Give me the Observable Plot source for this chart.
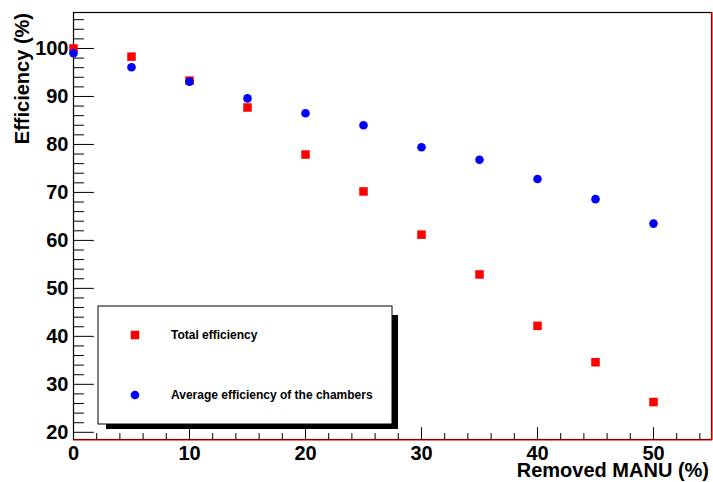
<!DOCTYPE html>
<html>
<head>
<meta charset="utf-8">
<script src="https://cdn.jsdelivr.net/npm/d3@7"></script>
<script src="https://cdn.jsdelivr.net/npm/@observablehq/plot@0.6"></script>
<style>
  html, body { margin: 0; padding: 0; background: #fff; }
  #chart { position: relative; width: 713px; height: 482px; }
  #chart > svg.overlay { position: absolute; left: 0; top: 0; pointer-events: none; }
</style>
</head>
<body>
<div id="chart"></div>
<script>
// ---- data ----
const removed   = [0, 5, 10, 15, 20, 25, 30, 35, 40, 45, 50];
const totalEff  = [100, 98.3, 93.3, 87.7, 77.9, 70.2, 61.2, 52.9, 42.2, 34.6, 26.3];
const avgEff    = [99.0, 96.1, 93.1, 89.6, 86.5, 84.0, 79.4, 76.8, 72.8, 68.6, 63.5];
const xMajor    = [0, 10, 20, 30, 40, 50];
const xMinor    = [2, 4, 6, 8, 12, 14, 16, 18, 22, 24, 26, 28, 32, 34, 36, 38, 42, 44, 46, 48, 52, 54];
const yMajor    = [20, 30, 40, 50, 60, 70, 80, 90, 100];
const yMinor    = [22, 24, 26, 28, 32, 34, 36, 38, 42, 44, 46, 48, 52, 54, 56, 58, 62, 64, 66, 68,
                   72, 74, 76, 78, 82, 84, 86, 88, 92, 94, 96, 98, 102, 104, 106];
const seriesNames = ["Total efficiency", "Average efficiency of the chambers"];
const xTitle = "Removed MANU (%)";
const yTitle = "Efficiency (%)";

const totalData = removed.map((x, i) => ({x, y: totalEff[i]}));
const avgData   = removed.map((x, i) => ({x, y: avgEff[i]}));

const font = "'Liberation Sans', Arial, Helvetica, sans-serif";

// inward tick shapes for Plot.vector
const tickRight = {draw(ctx, l) { ctx.moveTo(0, 0); ctx.lineTo(l, 0); }};
const tickUp    = {draw(ctx, l) { ctx.moveTo(0, 0); ctx.lineTo(0, -l); }};

const plot = Plot.plot({
  width: 713, height: 482,
  marginLeft: 73, marginRight: 2, marginTop: 12, marginBottom: 43,
  style: {fontFamily: font, background: "#fff", color: "#000"},
  x: {domain: [0, 55]},
  y: {domain: [18.5, 107.5]},
  marks: [
    Plot.frame({stroke: "#000", strokeWidth: 1.2}),
    Plot.vector(yMajor, {y: d => d, frameAnchor: "left", anchor: "start", length: 20, shape: tickRight, stroke: "#000", strokeWidth: 1}),
    Plot.vector(yMinor, {y: d => d, frameAnchor: "left", anchor: "start", length: 10, shape: tickRight, stroke: "#000", strokeWidth: 1}),
    Plot.vector(xMajor, {x: d => d, frameAnchor: "bottom", anchor: "start", length: 12, shape: tickUp, stroke: "#000", strokeWidth: 1}),
    Plot.vector(xMinor, {x: d => d, frameAnchor: "bottom", anchor: "start", length: 6, shape: tickUp, stroke: "#000", strokeWidth: 1}),
    Plot.axisY({ticks: yMajor, tickSize: 0, tickPadding: 5, fontSize: 20, fontWeight: "bold", label: null, tickFormat: d => d}),
    Plot.axisX({ticks: xMajor, tickSize: 0, tickPadding: 6, fontSize: 20, fontWeight: "bold", label: null, tickFormat: d => d}),
    Plot.dot(totalData, {x: "x", y: "y", symbol: "square", r: 4.8, fill: "#ff0000", stroke: null}),
    Plot.dot(avgData, {x: "x", y: "y", symbol: "circle", r: 4.3, fill: "#0000ff", stroke: null})
  ]
});

const holder = document.getElementById("chart");
holder.appendChild(plot);

// decorations in a separate overlay svg, positioned from Plot's scales
const NS = "http://www.w3.org/2000/svg";
const xs = plot.scale("x"), ys = plot.scale("y");
const fx0 = xs.range[0], fx1 = xs.range[1];
const fyb = ys.range[0], fyt = ys.range[1];
function el(parent, name, attrs, txt) {
  const e = document.createElementNS(NS, name);
  for (const k in attrs) e.setAttribute(k, attrs[k]);
  if (txt != null) e.textContent = txt;
  parent.appendChild(e);
  return e;
}
const overlay = el(holder, "svg", {class: "overlay", width: 713, height: 482, viewBox: "0 0 713 482"});
const deco = el(overlay, "g", {"text-anchor": "start"});
// red frame edges (bottom / right), ROOT style
el(deco, "line", {x1: fx0, x2: fx1 + 1, y1: fyb + 1, y2: fyb + 1, stroke: "#ff0000", "stroke-width": 1.2});
el(deco, "line", {x1: fx1 + 1, x2: fx1 + 1, y1: fyt, y2: fyb + 1, stroke: "#ff0000", "stroke-width": 1.2});

// axis titles (ROOT style: right/top aligned)
el(deco, "text", {transform: `translate(${fx0 - 44},${fyt + 1}) rotate(-90)`, "text-anchor": "end",
  "font-family": font, "font-size": 20, "font-weight": "bold", fill: "#000"}, yTitle);
el(deco, "text", {x: fx1 - 2, y: fyb + 37.5, "text-anchor": "end",
  "font-family": font, "font-size": 20, "font-weight": "bold", fill: "#000"}, xTitle);

// legend (ROOT TLegend with shadow)
const bx = 98, by = 306, bw = 294, bh = 118;
el(deco, "rect", {x: bx + 8, y: by + 9, width: bw - 2, height: bh - 4, fill: "#000"});
el(deco, "rect", {x: bx, y: by, width: bw, height: bh, fill: "#fff", stroke: "#000", "stroke-width": 1});
const items = [
  {name: seriesNames[0], color: "#ff0000", sym: "square", cy: 335},
  {name: seriesNames[1], color: "#0000ff", sym: "circle", cy: 395}
];
items.forEach(it => {
  if (it.sym === "square") {
    el(deco, "rect", {x: 135 - 4.25, y: it.cy - 4.25, width: 8.5, height: 8.5, fill: it.color});
  } else {
    el(deco, "circle", {cx: 135, cy: it.cy, r: 4.3, fill: it.color});
  }
  el(deco, "text", {x: 171, y: it.cy, dy: "0.35em", "text-anchor": "start", "font-family": font,
    "font-size": 12, "font-weight": "bold", fill: "#000"}, it.name);
});
</script>
</body>
</html>
